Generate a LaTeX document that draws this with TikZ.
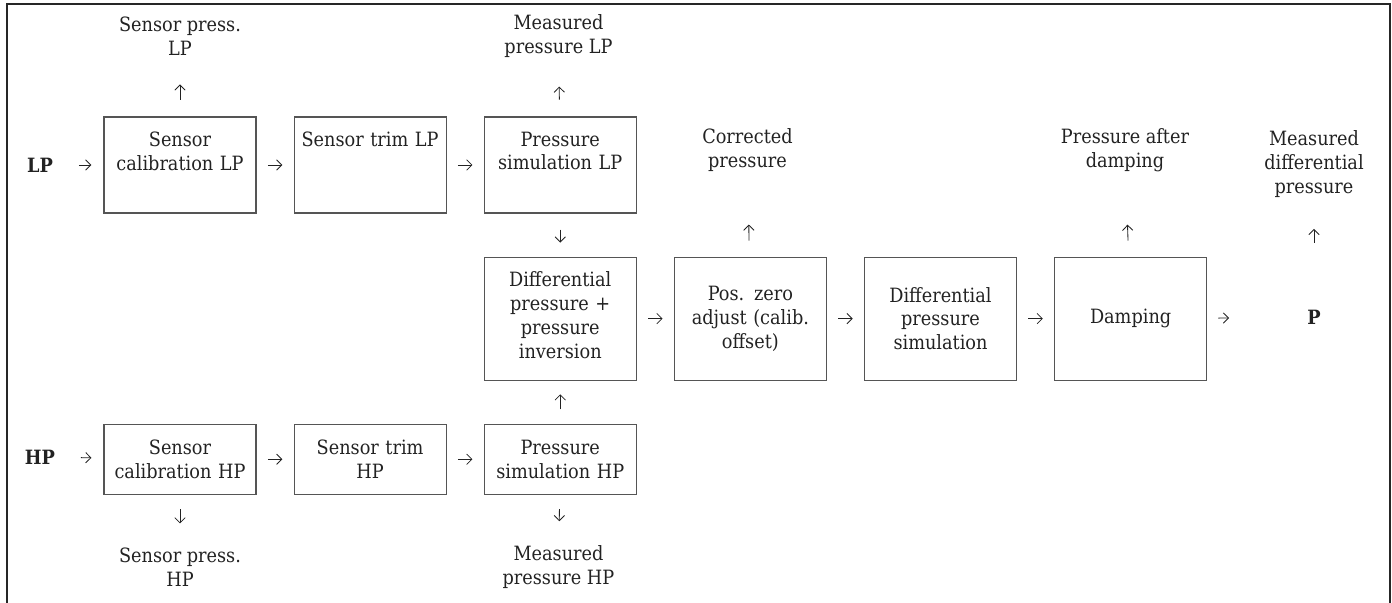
\documentclass[tikz,border=0pt]{standalone}
\usepackage{fontspec}
\setmainfont{DejaVu Serif Condensed}
\usetikzlibrary{arrows.meta, positioning, calc}
\definecolor{BoxLine}{RGB}{85, 85, 85}
\definecolor{TextGrey}{RGB}{34, 34, 34}

\begin{document}
\begin{tikzpicture}[
    font=\fontsize{14}{17}\selectfont,
    every node/.style={text=TextGrey},
    box/.style={draw=BoxLine, line width=0.8pt, minimum width=3.8cm, inner sep=0pt, align=center, text width=3.7cm},
    boxtext/.style={anchor=north, inner sep=0pt, align=center, text width=3.7cm, yshift=-0.375cm},
    toptext/.style={label={[boxtext]north:#1}},
    note/.style={inner sep=0pt, align=center},
    arrow/.style={-{Straight Barb[length=1.3mm, width=2.6mm]}, line width=0.6pt, TextGrey}
]

\useasboundingbox (0,0) rectangle (34.8,-15.075);

% Frame
\draw[line width=0.8pt, black!85] (0.175,-15.075) |- (34.75,-0.1) -- (34.75,-15.075);

% LP branch
\node[box, minimum height=2.4cm, toptext={Sensor\\calibration LP}] (calLP) at (4.5,-4.125) {};
\node[box, minimum height=2.4cm, toptext={Sensor trim LP}, right=0.925cm of calLP] (trimLP) {};
\node[box, minimum height=2.4cm, toptext={Pressure\\simulation LP}, right=0.925cm of trimLP] (psimLP) {};

% Differential pressure chain
\node[box, minimum height=3.075cm, toptext={Differential\\pressure +\\pressure\\inversion}, below=1.075cm of psimLP] (diff) {};
\node[box, minimum height=3.075cm, right=0.925cm of diff] (zero) {Pos. zero\\adjust (calib.\\offset)};
\node[box, minimum height=3.075cm, right=0.925cm of zero] (dsim) {Differential\\pressure\\simulation};
\node[box, minimum height=3.075cm, right=0.925cm of dsim] (damp) {Damping};

% HP branch
\node[box, minimum height=1.75cm, below=1.075cm of diff] (psimHP) {Pressure\\simulation HP};
\node[box, minimum height=1.75cm, left=0.925cm of psimHP] (trimHP) {Sensor trim\\HP};
\node[box, minimum height=1.75cm, left=0.925cm of trimHP] (calHP) {Sensor\\calibration HP};

% Inputs and outputs
\node[note] (lp) at (1.0,-4.125) {\textbf{LP}};
\node[note] (hp) at (1.0,-11.425) {\textbf{HP}};
\node[note] (p) at (32.85,-7.9375) {\textbf{P}};
\node[note] (spLP) at (4.5,-0.9) {Sensor press.\\LP};
\node[note] (mpLP) at (13.9625,-0.9) {Measured\\pressure LP};
\node[note] (corr) at (18.6875,-3.75) {Corrected\\pressure};
\node[note] (pdamp) at (28.125,-3.75) {Pressure after\\damping};
\node[note] (mdp) at (32.85,-4.1) {Measured\\differential\\pressure};
\node[note] (spHP) at (4.5,-14.175) {Sensor press.\\HP};
\node[note] (mpHP) at (13.9625,-14.175) {Measured\\pressure HP};

% Flow LP
\draw[arrow, shorten <=0.64cm, shorten >=0.3cm] (lp) -- (calLP);
\draw[arrow, shorten <=0.28cm, shorten >=0.28cm] (calLP) -- (trimLP);
\draw[arrow, shorten <=0.28cm, shorten >=0.28cm] (trimLP) -- (psimLP);
\draw[arrow, shorten <=0.42cm, shorten >=0.72cm] (calLP) -- (spLP);
\draw[arrow, shorten <=0.42cm, shorten >=0.72cm] (psimLP) -- (mpLP);
\draw[arrow, shorten <=0.4cm, shorten >=0.35cm] (psimLP) -- (diff);

% Flow differential
\draw[arrow, shorten <=0.28cm, shorten >=0.28cm] (diff) -- (zero);
\draw[arrow, shorten <=0.28cm, shorten >=0.28cm] (zero) -- (dsim);
\draw[arrow, shorten <=0.28cm, shorten >=0.28cm] (dsim) -- (damp);
\draw[arrow, shorten <=0.28cm, shorten >=1.95cm] (damp) -- (p);
\draw[arrow, shorten <=0.4cm, shorten >=1.32cm] (zero) -- (corr);
\draw[arrow, shorten <=0.4cm, shorten >=1.32cm] (damp) -- (pdamp);
\draw[arrow, shorten <=1.68cm, shorten >=0.78cm] (p) -- (mdp);

% Flow HP
\draw[arrow, shorten <=0.64cm, shorten >=0.3cm] (hp) -- (calHP);
\draw[arrow, shorten <=0.28cm, shorten >=0.28cm] (calHP) -- (trimHP);
\draw[arrow, shorten <=0.28cm, shorten >=0.28cm] (trimHP) -- (psimHP);
\draw[arrow, shorten <=0.36cm, shorten >=0.34cm] (psimHP) -- (diff);
\draw[arrow, shorten <=0.36cm, shorten >=0.6cm] (calHP) -- (spHP);
\draw[arrow, shorten <=0.36cm, shorten >=0.6cm] (psimHP) -- (mpHP);

\end{tikzpicture}
\end{document}
